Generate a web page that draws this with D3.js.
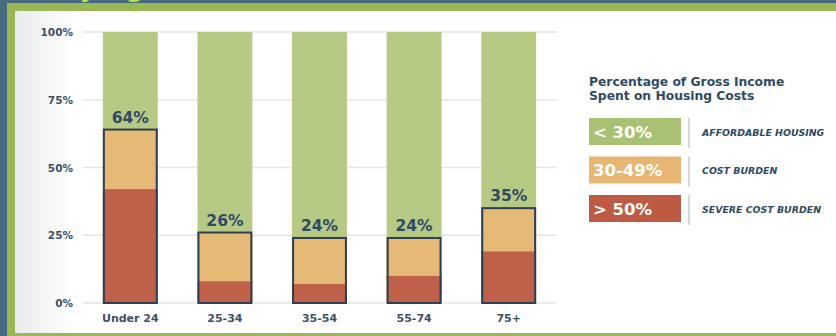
<!DOCTYPE html>
<html><head><meta charset="utf-8">
<script src="https://cdn.jsdelivr.net/npm/d3@7"></script>
<style>
html,body{margin:0;padding:0;background:#466a80;}
svg{display:block;font-family:"DejaVu Sans",Arial,sans-serif;}
</style></head>
<body>
<svg id="c" width="836" height="336"></svg>
<script>
const categories = ["Under 24","25-34","35-54","55-74","75+"];
const severe = [0.42,0.08,0.07,0.10,0.19];
const costBurden = [0.22,0.18,0.17,0.14,0.16];
const totalLabels = ["64%","26%","24%","24%","35%"];
const yTicks = [0,0.25,0.5,0.75,1];
const yTickLabels = ["0%","25%","50%","75%","100%"];
const legendRanges = ["< 30%","30-49%","> 50%"];
const legendNames = ["AFFORDABLE HOUSING","COST BURDEN","SEVERE COST BURDEN"];
const legendTitle = ["Percentage of Gross Income","Spent on Housing Costs"];

const C = {green:"#b6c985",tan:"#e5b976",red:"#bf604a",lgGreen:"#a8c172",lgTan:"#e6b672",lgRed:"#bd5a43",ink:"#2f4a62",frame:"#99b855"};
const FONT = "DejaVu Sans, Arial, sans-serif";

const svg = d3.select("#c");
const defs = svg.append("defs");
const g1 = defs.append("linearGradient").attr("id","lg").attr("x1","0").attr("x2","1");
g1.append("stop").attr("offset","0").attr("stop-color","#e9eaeb");
g1.append("stop").attr("offset","0.07").attr("stop-color","#ffffff");
g1.append("stop").attr("offset","1").attr("stop-color","#ffffff");
defs.append("clipPath").attr("id","topclip").append("rect").attr("x",0).attr("y",0).attr("width",836).attr("height",3);

// background frame
svg.append("rect").attr("x",0).attr("y",0).attr("width",836).attr("height",336).attr("fill","#466a80");
svg.append("rect").attr("x",7).attr("y",3).attr("width",829).attr("height",333).attr("fill",C.frame);
svg.append("rect").attr("x",15).attr("y",11).attr("width",821).attr("height",322).attr("fill","url(#lg)");
// cut-off title (only descenders visible, as in the reference)
svg.append("text").attr("clip-path","url(#topclip)").attr("x",162).attr("y",-4)
  .attr("text-anchor","end").attr("font-size",26).attr("font-weight","bold").attr("fill","#b7e04e")
  .text("Cost Burden by Age");

const x = d3.scaleBand().domain(categories).range([83,556]).paddingInner(0.42).paddingOuter(0.21);
const y = d3.scaleLinear().domain([0,1]).range([303,32]);

// grid
svg.append("g").selectAll("line").data(yTicks).join("line")
  .attr("x1",83).attr("x2",556).attr("y1",d=>y(d)).attr("y2",d=>y(d))
  .attr("stroke","#e4e5e6").attr("stroke-width",1.5);

// y axis labels
const yAxis = d3.axisLeft(y).tickValues(yTicks).tickFormat((d,i)=>yTickLabels[i]).tickSize(0).tickPadding(0);
const ya = svg.append("g").attr("transform","translate(73,0)").call(yAxis);
ya.select(".domain").remove();
ya.selectAll("text").attr("font-size",10.5).attr("font-weight","bold").attr("fill","#3e5064")
  .attr("font-family",FONT).attr("dy","0.35em");

const data = categories.map((c,i)=>({c,s:severe[i],b:costBurden[i],t:severe[i]+costBurden[i],lab:totalLabels[i]}));
const bars = svg.append("g").selectAll("g").data(data).join("g");
bars.append("rect").attr("x",d=>x(d.c)).attr("width",x.bandwidth()).attr("y",y(1)).attr("height",y(0)-y(1)).attr("fill",C.green);
bars.append("rect").attr("x",d=>x(d.c)).attr("width",x.bandwidth()).attr("y",d=>y(d.t)).attr("height",d=>y(d.s)-y(d.t)).attr("fill",C.tan);
bars.append("rect").attr("x",d=>x(d.c)).attr("width",x.bandwidth()).attr("y",d=>y(d.s)).attr("height",d=>y(0)-y(d.s)).attr("fill",C.red);
bars.append("rect").attr("x",d=>x(d.c)+1).attr("width",x.bandwidth()-2).attr("y",d=>y(d.t)).attr("height",d=>y(0)-y(d.t))
  .attr("fill","none").attr("stroke","#2d3f52").attr("stroke-width",2);
bars.append("text").attr("x",d=>x(d.c)+x.bandwidth()/2).attr("y",d=>y(d.t)-7)
  .attr("text-anchor","middle").attr("font-size",15.5).attr("font-weight","bold").attr("fill",C.ink).text(d=>d.lab);

// x axis labels
const xAxis = d3.axisBottom(x).tickSize(0).tickPadding(0);
const xa = svg.append("g").attr("transform","translate(0,322)").call(xAxis);
xa.select(".domain").remove();
xa.selectAll("text").attr("dy",0).attr("font-size",11).attr("font-weight","bold").attr("fill","#3e5064")
  .attr("font-family",FONT);

// legend
const lg = svg.append("g");
lg.selectAll("text.t").data(legendTitle).join("text").attr("class","t")
  .attr("x",589).attr("y",(d,i)=>86+i*14).attr("font-size",12.3).attr("font-weight","bold").attr("fill",C.ink).text(d=>d);
const lcols = [C.lgGreen,C.lgTan,C.lgRed];
const items = lg.selectAll("g.it").data(legendRanges).join("g").attr("class","it")
  .attr("transform",(d,i)=>`translate(589,${118+i*38.5})`);
items.append("rect").attr("width",92).attr("height",27).attr("fill",(d,i)=>lcols[i]);
items.append("text").attr("x",4).attr("y",19.5).attr("font-size",16.5).attr("font-weight","bold").attr("fill","#ffffff").text(d=>d);
items.append("line").attr("x1",100).attr("x2",100).attr("y1",0).attr("y2",30).attr("stroke","#c8c8c8").attr("stroke-width",1.5);
items.append("text").attr("x",113).attr("y",17.5).attr("font-size",9.4).attr("font-weight","bold").attr("font-style","italic")
  .attr("fill",C.ink).text((d,i)=>legendNames[i]);
</script>
</body></html>
